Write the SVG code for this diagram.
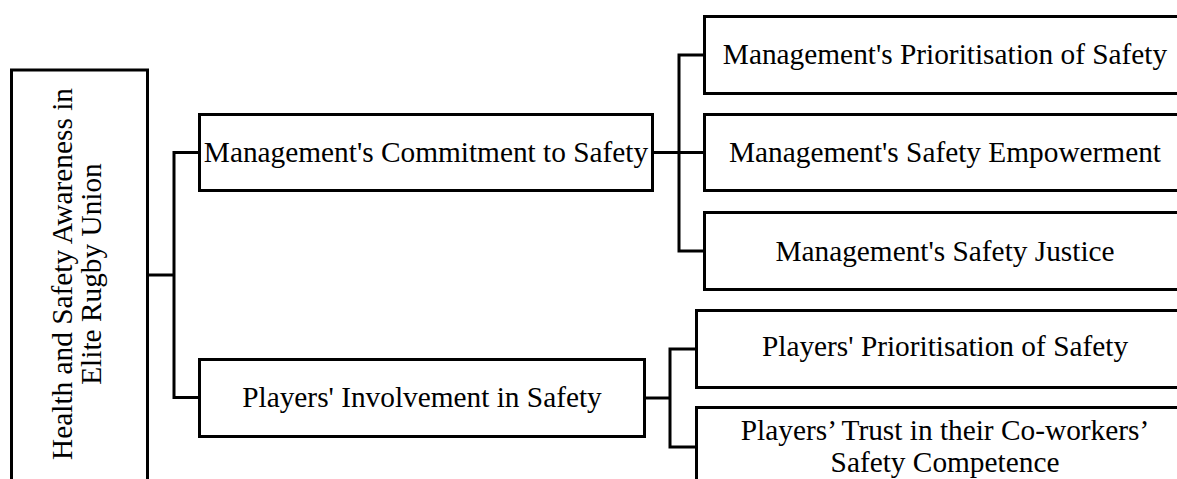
<svg xmlns="http://www.w3.org/2000/svg" width="1177" height="479" viewBox="0 0 1177 479">
<style>
.box{fill:#fff;stroke:#000;stroke-width:3}
.t{font-family:"Liberation Serif","Times New Roman",serif;font-size:29.33px;fill:#000;text-anchor:middle}
.c{fill:none;stroke:#000;stroke-width:3}
</style>
<rect width="1177" height="479" fill="#fff"/>
<g id="connectors">
<polyline class="c" points="148,275 174,275"/>
<polyline class="c" points="199,152.5 174,152.5 174,397.5 199,397.5"/>
<polyline class="c" points="653,152.5 704,152.5"/>
<polyline class="c" points="704,55 679,55 679,251 704,251"/>
<polyline class="c" points="645,398 670,398"/>
<polyline class="c" points="696,349 670,349 670,447 696,447"/>
</g>
<g id="root">
<rect class="box" x="11.5" y="70" width="136" height="450"/>
<text class="t" transform="translate(72,274) rotate(-90)">Health and Safety Awareness in</text>
<text class="t" transform="translate(101,274) rotate(-90)">Elite Rugby Union</text>
</g>
<g id="commitment">
<rect class="box" x="199.5" y="114.5" width="453" height="76"/>
<text class="t" x="426" y="162">Management's Commitment to Safety</text>
</g>
<g id="involvement">
<rect class="box" x="199.5" y="359.5" width="445" height="77"/>
<text class="t" x="422" y="407">Players' Involvement in Safety</text>
</g>
<g id="mgmt-prioritisation">
<rect class="box" x="704.5" y="16.5" width="520" height="77"/>
<text class="t" x="945" y="64">Management's Prioritisation of Safety</text>
</g>
<g id="mgmt-empowerment">
<rect class="box" x="704.5" y="114.5" width="520" height="76"/>
<text class="t" x="945" y="162">Management's Safety Empowerment</text>
</g>
<g id="mgmt-justice">
<rect class="box" x="704.5" y="212.5" width="520" height="77"/>
<text class="t" x="945" y="261">Management's Safety Justice</text>
</g>
<g id="players-prioritisation">
<rect class="box" x="696.5" y="310.5" width="520" height="77"/>
<text class="t" x="945" y="356">Players' Prioritisation of Safety</text>
</g>
<g id="players-trust">
<rect class="box" x="696.5" y="407.5" width="520" height="100"/>
<text class="t" x="945" y="440">Players’ Trust in their Co-workers’</text>
<text class="t" x="945" y="472">Safety Competence</text>
</g>
</svg>
